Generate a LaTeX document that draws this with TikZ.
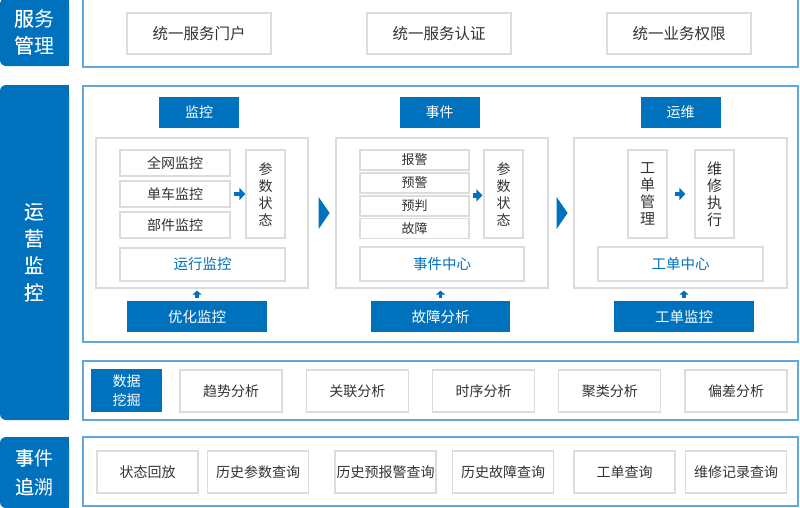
\documentclass[tikz,border=0pt]{standalone}
\usepackage{fontspec}
\newfontfamily\cjk{Noto Sans CJK SC}
\usetikzlibrary{arrows.meta,positioning}
\definecolor{mainblue}{HTML}{0071BC}
\definecolor{lineblue}{HTML}{62A8DC}
\definecolor{boxgray}{HTML}{DCDCDC}
\definecolor{textgray}{HTML}{333333}
\newcommand{\fs}[2]{\fontsize{#1}{#2}\selectfont}

\begin{document}
\begin{tikzpicture}[
            x = 1pt, y = -1pt, % pixel grid, y going down
            every node/.style = {font=\cjk, inner sep=0pt},
            side/.style = {fill=mainblue, text=white, rounded corners=6pt,
                           align=center, font=\cjk\fs{20}{27}},
            frame/.style = {draw=lineblue, line width=1.3pt},
            item/.style = {draw=boxgray, fill=white, line width=1.2pt,
                           text=textgray, font=\cjk\fs{14}{17}},
            panel/.style = {draw=boxgray, line width=1.2pt},
            header/.style = {fill=mainblue, text=white, font=\cjk\fs{14}{17}},
            center/.style = {item, text=mainblue, font=\cjk\fs{14.5}{17}},
            fat/.style = {mainblue, line width=4.5pt,
                          -{Triangle[length=6pt,width=12pt]}},
            up/.style = {mainblue, line width=3.5pt,
                         -{Triangle[length=4pt,width=9pt]}}
        ]
	\useasboundingbox (0,0) rectangle (800,507);

	% left side labels
	\node[side, minimum width=69pt, minimum height=68pt] (fw) at (34.5,32) {服务\\管理};
	\node[side, minimum width=69pt, minimum height=335pt] (yy) at (34.5,252.5) {运\\营\\监\\控};
	\node[side, minimum width=69pt, minimum height=71pt, font=\cjk\fs{19}{29}] (zs) at (34.5,472.5) {事件\\追溯};
	\fill[mainblue] (fw.north) rectangle (fw.south east);
	\fill[mainblue] (yy.north) rectangle (yy.south east);
	\fill[mainblue] (zs.north) rectangle (zs.south east);
	\node at (fw) [text=white, align=center, font=\cjk\fs{20}{27}] {服务\\管理};
	\node at (yy) [text=white, align=center, font=\cjk\fs{20}{27}] {运\\营\\监\\控};
	\node at (zs) [text=white, align=center, font=\cjk\fs{19}{29}] {事件\\追溯};

	% frames
	\node[frame, minimum width=715pt, minimum height=68pt] (top) at (440.5,33) {};
	\node[frame, minimum width=715pt, minimum height=256pt] (mid) at (440.5,214) {};
	\node[frame, minimum width=715pt, minimum height=59pt] (wj) at (440.5,390.5) {};
	\node[frame, minimum width=715pt, minimum height=69pt] (bot) at (440.5,471.5) {};

	% service
	\node[item, minimum width=144pt, minimum height=41pt, font=\cjk\fs{15.5}{18}] (mh) at (199,33.5) {统一服务门户};
	\node[item, minimum width=144pt, minimum height=41pt, font=\cjk\fs{15.5}{18}, node distance=240pt] (rz) [right of=mh] {统一服务认证};
	\node[item, minimum width=144pt, minimum height=41pt, font=\cjk\fs{15.5}{18}, node distance=240pt] (qx) [right of=rz] {统一业务权限};

	% headers
	\node[header, minimum width=80pt, minimum height=31pt] (hjk) at (199,112.5) {监控};
	\node[header, minimum width=80pt, minimum height=31pt] (hsj) at (439.5,112.5) {事件};
	\node[header, minimum width=80pt, minimum height=31pt] (hyw) at (680.5,112.5) {运维};

	% panels
	\node[panel, minimum width=212pt, minimum height=150pt] (p1) at (202,213) {};
	\node[panel, minimum width=212pt, minimum height=150pt] (p2) at (442,213) {};
	\node[panel, minimum width=213pt, minimum height=150pt] (p3) at (680.5,213) {};

	% monitoring
	\node[item, minimum width=110pt, minimum height=26pt] (qw) at (175,163) {全网监控};
	\node[item, minimum width=110pt, minimum height=26pt] (dc) at (175,194) {单车监控};
	\node[item, minimum width=110pt, minimum height=26pt] (bj) at (175,225) {部件监控};
	\node[item, minimum width=39pt, minimum height=88pt, align=center] (cs1) at (265.5,194) {参\\数\\状\\态};
	\node[center, minimum width=165pt, minimum height=33pt] (yx) at (202.5,264.5) {运行监控};
	\node[header, minimum width=140pt, minimum height=31pt, font=\cjk\fs{14.5}{18}] (yh) at (197,316.5) {优化监控};

	% events
	\node[item, minimum width=109pt, minimum height=20pt, font=\cjk\fs{13}{16}] (bjg) at (414.5,160) {报警};
	\node[item, minimum width=109pt, minimum height=20pt, font=\cjk\fs{13}{16}] (yjg) at (414.5,183) {预警};
	\node[item, minimum width=109pt, minimum height=20pt, font=\cjk\fs{13}{16}] (ypd) at (414.5,206) {预判};
	\node[item, minimum width=109pt, minimum height=20pt, font=\cjk\fs{13}{16}] (gzh) at (414.5,228.5) {故障};
	\node[item, minimum width=39pt, minimum height=88pt, align=center] (cs2) at (503.5,194) {参\\数\\状\\态};
	\node[center, minimum width=164pt, minimum height=34pt] (sjzx) at (442,264) {事件中心};
	\node[header, minimum width=139pt, minimum height=31pt, font=\cjk\fs{14.5}{18}] (gzfx) at (440.5,316.5) {故障分析};

	% maintenance
	\node[item, minimum width=39pt, minimum height=88pt, align=center, font=\cjk\fs{15}{17}] (gdgl) at (647.5,194) {工\\单\\管\\理};
	\node[item, minimum width=39pt, minimum height=88pt, align=center, font=\cjk\fs{15}{17}] (wxzx) at (714.5,194) {维\\修\\执\\行};
	\node[center, minimum width=165pt, minimum height=34pt] (gdzx) at (680.5,264) {工单中心};
	\node[header, minimum width=140pt, minimum height=31pt, font=\cjk\fs{14.5}{18}] (gdjk) at (684,316.5) {工单监控};

	% arrows
	\draw[fat, shorten <=3pt] (dc.east) -- (cs1.west);
	\draw[fat, shorten <=3pt, shorten >=1pt] (ypd.north east) -- (ypd.north east -| cs2.west);
	\draw[fat, shorten <=7pt, shorten >=9pt] (gdgl.east) -- (wxzx.west);
	\draw[up, shorten <=3pt, shorten >=2pt] (yh.north) -- (yh.north |- p1.south);
	\draw[up, shorten <=3pt, shorten >=2pt] (gzfx.north) -- (gzfx.north |- p2.south);
	\draw[up, shorten <=3pt, shorten >=2pt] (gdjk.north) -- (gdjk.north |- p3.south);
	\fill[mainblue] (p1.east) ++(10,-16) -- ++(11,16) -- ++(-11,16) -- cycle;
	\fill[mainblue] (p2.east) ++(8,-16) -- ++(11,16) -- ++(-11,16) -- cycle;

	% data mining
	\node[header, minimum width=71pt, minimum height=43pt, align=center, font=\cjk\fs{14}{19}] (sjwj) at (126.5,390.5) {数据\\挖掘};
	\begin{scope}[node distance=126.25pt]
	\node[item, minimum width=102pt, minimum height=42pt] (qsfx) at (231,391) {趋势分析};
	\node[item, minimum width=102pt, minimum height=42pt] (glfx) [right of=qsfx] {关联分析};
	\node[item, minimum width=102pt, minimum height=42pt] (sxfx) [right of=glfx] {时序分析};
	\node[item, minimum width=102pt, minimum height=42pt] (jlfx) [right of=sxfx] {聚类分析};
	\node[item, minimum width=102pt, minimum height=42pt] (pcfx) [right of=jlfx] {偏差分析};
	\end{scope}

	% tracing
	\node[item, minimum width=101pt, minimum height=42pt] (zthf) at (147.5,472) {状态回放};
	\node[item, minimum width=101pt, minimum height=42pt] (lscs) at (258,472) {历史参数查询};
	\node[item, minimum width=101pt, minimum height=42pt] (lsyb) at (385.5,472) {历史预报警查询};
	\node[item, minimum width=101pt, minimum height=42pt] (lsgz) at (503,472) {历史故障查询};
	\node[item, minimum width=101pt, minimum height=42pt] (gdcx) at (624.5,472) {工单查询};
	\node[item, minimum width=101pt, minimum height=42pt] (wxjl) at (736,472) {维修记录查询};
\end{tikzpicture}
\end{document}
